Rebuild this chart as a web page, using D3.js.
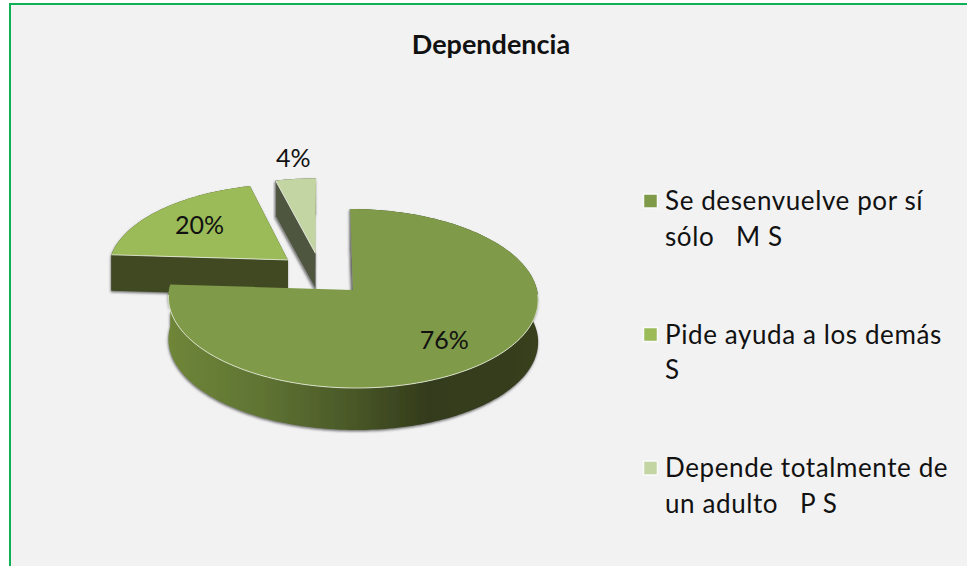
<!DOCTYPE html>
<html>
<head>
<meta charset="utf-8">
<script src="https://cdn.jsdelivr.net/npm/d3@7"></script>
<style>
html,body{margin:0;padding:0;background:#fff;overflow:hidden}
svg{display:block}
text{font-family:Lato,"Open Sans",sans-serif;fill:#111;white-space:pre}
</style>
</head>
<body>
<script>
const title = "Dependencia";
const categories = ["Se desenvuelve por sí sólo   M S", "Pide ayuda a los demás S", "Depende totalmente de un adulto   P S"];
const legendLines = [["Se desenvuelve por sí", "sólo   M S"], ["Pide ayuda a los demás", "S"], ["Depende totalmente de", "un adulto   P S"]];
const values = [76, 20, 4];
const topColors = ["#7f9a48", "#9bbb59", "#c3d5a3"];
const wallColors = ["url(#mainWall)", "#3f4a20", "#4f5640"];

// style and layout constants
const W = 967, H = 566;
const explodeU = [0, -0.36, -0.205];
const explodeV = [0, 0.35, 0.43];
const labelRadius = [0.70, 0.68, 1.3];
const labelNudgeX = [-3, 0, 3];
const labelNudgeY = [3, 0, -1];
const depths = [42, 36, 36];
const perspective = 0.095;
const shear = -3;

const svg = d3.select("body").append("svg").attr("width", W).attr("height", H);
const defs = svg.append("defs");

const grad = defs.append("linearGradient").attr("id", "mainWall");
[[0, "#6f8639"], [0.25, "#5f7433"], [0.48, "#4b5a28"], [0.7, "#333b1b"], [1, "#373f1e"]]
  .forEach(([o, c]) => grad.append("stop").attr("offset", o).attr("stop-color", c));

const sh = defs.append("filter").attr("id", "wallShadow")
  .attr("x", "-5%").attr("y", "-5%").attr("width", "110%").attr("height", "115%");
sh.append("feDropShadow").attr("dx", -0.5).attr("dy", 1.5).attr("stdDeviation", 1.2)
  .attr("flood-color", "#555").attr("flood-opacity", 0.8);

const soft = defs.append("filter").attr("id", "soft")
  .attr("x", "-5%").attr("y", "-5%").attr("width", "110%").attr("height", "110%");
soft.append("feGaussianBlur").attr("stdDeviation", 0.35);

// chart area
svg.append("rect").attr("x", 10).attr("y", 4).attr("width", W).attr("height", H)
  .attr("fill", "#f2f2f2").attr("stroke", "#10b057").attr("stroke-width", 2);

svg.append("text").attr("x", 491).attr("y", 54).attr("text-anchor", "middle")
  .attr("font-size", 27).attr("font-weight", 700).text(title);

// projection of the tilted disc
const xScale = d3.scaleLinear().domain([-1, 1]).range([169, 537]);
const yScale = d3.scaleLinear().domain([-1, 1]).range([378.7, 201.3]);
const project = (u, v) => {
  const w = 1 + perspective * v;
  return [xScale(u / w) + shear * v / w, yScale(v / w)];
};

const pie = d3.pie().sort(null).value(d => d).startAngle(0).endAngle(2 * Math.PI);
const arcs = pie(values);
const line = d3.line();

const rimPoints = (a, i) => {
  const n = Math.max(8, Math.ceil((a.endAngle - a.startAngle) / 0.02));
  return d3.range(n + 1).map(k => {
    const t = a.startAngle + (a.endAngle - a.startAngle) * k / n;
    return project(Math.sin(t) + explodeU[i], Math.cos(t) + explodeV[i]);
  });
};
const apex = i => project(explodeU[i], explodeV[i]);

const pie3d = svg.append("g").attr("filter", "url(#soft)");

// far slices are painted first
[2, 1, 0].forEach(i => {
  const a = arcs[i];
  const rim = rimPoints(a, i);
  const c = apex(i);
  const drop = p => [p[0], p[1] + depths[i]];
  const g = pie3d.append("g");
  const wallG = g.append("g").attr("filter", "url(#wallShadow)");
  const first = rim[0], last = rim[rim.length - 1];
  // outer wall
  wallG.append("path")
    .attr("d", line(rim.concat(rim.slice().reverse().map(drop))) + "Z")
    .attr("fill", wallColors[i]);
  // cut faces (the far cut of the large slice faces away from the viewer)
  (i === 0 ? [first] : [first, last]).forEach(p => {
    wallG.append("path")
      .attr("d", line([p, c, drop(c), drop(p)]) + "Z")
      .attr("fill", i === 0 ? "#5d5f55" : wallColors[i])
      .attr("stroke", i === 0 || (i === 2 && p === first) ? "#8a8a8a" : "none")
      .attr("stroke-width", 1);
  });
  // top face
  g.append("path")
    .attr("d", line([c].concat(rim)) + "Z")
    .attr("fill", topColors[i]);
  // highlighted rim
  const front = rim.filter(p => p[1] > c[1] + 4);
  g.append("path")
    .attr("d", line(i === 0 ? front : [rim[0], c]))
    .attr("fill", "none")
    .attr("stroke", "#e8ecdc").attr("stroke-width", 1).attr("opacity", 0.85);
});

// percentage labels
const fmt = d3.format(".0%");
const total = d3.sum(values);
arcs.forEach((a, i) => {
  const t = (a.startAngle + a.endAngle) / 2;
  const p = project(Math.sin(t) * labelRadius[i] + explodeU[i], Math.cos(t) * labelRadius[i] + explodeV[i]);
  svg.append("text").attr("x", p[0] + labelNudgeX[i]).attr("y", p[1] + labelNudgeY[i]).attr("dy", "0.35em")
    .attr("text-anchor", "middle").attr("font-size", 25)
    .text(fmt(a.data / total));
});

// legend
const legendY = d3.scalePoint().domain(d3.range(categories.length)).range([209, 476]);
const legend = svg.append("g");
categories.forEach((c, i) => {
  const y = legendY(i);
  legend.append("rect").attr("x", 643.5).attr("y", y - 15).attr("width", 14).attr("height", 14)
    .attr("fill", topColors[i]).attr("stroke", "#fafafa").attr("stroke-width", 1.5);
  legendLines[i].forEach((t, k) => {
    legend.append("text").attr("x", 665).attr("y", y + 1 + k * 35.5)
      .attr("font-size", 26).attr("letter-spacing", 0.6).text(t);
  });
});
</script>
</body>
</html>
